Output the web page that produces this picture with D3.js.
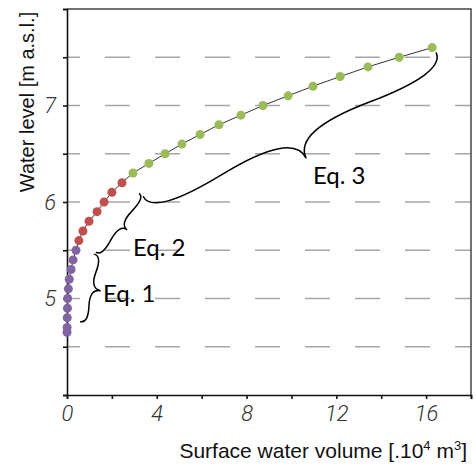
<!DOCTYPE html>
<html>
<head>
<meta charset="utf-8">
<script src="https://cdn.jsdelivr.net/npm/d3@7"></script>
<style>
  body { margin: 0; background: #fff; }
</style>
</head>
<body>
<svg id="chart" width="476" height="467"></svg>
<script>
// water levels [m a.s.l.] and volumes [10^4 m3], one pair of arrays per equation
const eq1Level = [4.65, 4.7, 4.8, 4.9, 5.0, 5.1, 5.2, 5.3, 5.4, 5.5];
const eq1Volume = [0.0, 0.005, 0.01, 0.02, 0.03, 0.06, 0.1, 0.18, 0.27, 0.4];
const eq2Level = [5.6, 5.7, 5.8, 5.9, 6.0, 6.1, 6.2];
const eq2Volume = [0.53, 0.71, 0.98, 1.34, 1.65, 2.0, 2.45];
const eq3Level = [6.3, 6.4, 6.5, 6.6, 6.7, 6.8, 6.9, 7.0, 7.1, 7.2, 7.3, 7.4, 7.5, 7.6];
const eq3Volume = [2.94, 3.65, 4.37, 5.12, 5.93, 6.77, 7.75, 8.73, 9.85, 10.96, 12.17, 13.41, 14.8, 16.27];

const xTickLabels = [0, 4, 8, 12, 16];
const yTickLabels = [5, 6, 7];
const gridLevels = [4.5, 5, 5.5, 6, 6.5, 7, 7.5];

// brace annotations: ends in data units [volume, level]
const braceNames = ["Eq. 1", "Eq. 2", "Eq. 3"];
const braceStart = [[0.58, 4.76], [1.29, 5.48], [3.39, 6.06]];
const braceEnd = [[1.2, 5.46], [3.21, 6.09], [16.44, 7.55]];
const braceDepth = [14, 12, 38];
const braceLabelAt = [[1.6, 4.96], [2.94, 5.44], [10.96, 6.19]];

const colors = ["#8064a2", "#c0504d", "#9bbb59"];

const svg = d3.select("#chart");
const plotLeft = 67, plotRight = 471, plotTop = 9, plotBottom = 395;

const x = d3.scaleLinear().domain([0, 18]).range([plotLeft, plotRight]);
const y = d3.scaleLinear().domain([4, 8]).range([plotBottom, plotTop]);

// dashed grid
svg.append("g")
  .selectAll("line")
  .data(gridLevels)
  .join("line")
  .attr("x1", plotLeft)
  .attr("x2", plotRight)
  .attr("y1", (d) => y(d))
  .attr("y2", (d) => y(d))
  .attr("stroke", "#a6a6a6")
  .attr("stroke-width", 1.4)
  .attr("stroke-dasharray", "25,25")
  .attr("stroke-dashoffset", 12);

// box: top and right edges
svg.append("path")
  .attr("d", `M${plotLeft},${plotTop}H${plotRight}V${plotBottom}`)
  .attr("fill", "none")
  .attr("stroke", "#444")
  .attr("stroke-width", 1.5);

// axes
const xAxis = svg.append("g")
  .attr("transform", `translate(0,${plotBottom})`)
  .call(d3.axisBottom(x).tickValues(d3.range(0, 19, 2)).tickSize(4).tickFormat((d) => xTickLabels.includes(d) ? d : ""));
const yAxis = svg.append("g")
  .attr("transform", `translate(${plotLeft},0)`)
  .call(d3.axisLeft(y).tickValues(d3.range(4, 8.01, 0.5)).tickSize(4).tickFormat((d) => yTickLabels.includes(d) ? d : ""));

[xAxis, yAxis].forEach((g) => {
  g.select(".domain").attr("stroke", "#111").attr("stroke-width", 1.6);
  g.selectAll(".tick line").attr("stroke", "#111").attr("stroke-width", 1.6);
  g.selectAll(".tick text")
    .style("font-family", "Roboto, 'Liberation Sans', sans-serif")
    .style("font-style", "italic")
    .style("font-weight", 300)
    .style("font-size", "22px")
    .attr("fill", "#333");
});
xAxis.selectAll(".tick text").attr("y", 10);
yAxis.selectAll(".tick text").attr("x", -11);

// axis titles
svg.append("text")
  .attr("x", plotRight - 4)
  .attr("y", 458)
  .attr("text-anchor", "end")
  .style("font-family", "'Liberation Sans', Arial, sans-serif")
  .style("font-size", "21px")
  .attr("fill", "#111")
  .html('Surface water volume [.10<tspan dy="-8" font-size="13px">4</tspan><tspan dy="8"> m</tspan><tspan dy="-8" font-size="13px">3</tspan><tspan dy="8">]</tspan>');

svg.append("text")
  .attr("transform", "translate(34,102) rotate(-90)")
  .attr("text-anchor", "middle")
  .style("font-family", "'Liberation Sans', Arial, sans-serif")
  .style("font-size", "20px")
  .attr("fill", "#111")
  .text("Water level [m a.s.l.]");

// connecting line through all points
const levels = [...eq1Level, ...eq2Level, ...eq3Level];
const volumes = [...eq1Volume, ...eq2Volume, ...eq3Volume];
const allPoints = levels.map((l, i) => [volumes[i], l]);
svg.append("path")
  .datum(allPoints)
  .attr("d", d3.line().x((d) => x(d[0])).y((d) => y(d[1])))
  .attr("fill", "none")
  .attr("stroke", "#333")
  .attr("stroke-width", 1);

// dots, coloured per equation
const groups = [
  eq1Level.map((l, i) => [eq1Volume[i], l]),
  eq2Level.map((l, i) => [eq2Volume[i], l]),
  eq3Level.map((l, i) => [eq3Volume[i], l]),
];
groups.forEach((pts, gi) => {
  svg.append("g")
    .selectAll("circle")
    .data(pts)
    .join("circle")
    .attr("cx", (d) => x(d[0]))
    .attr("cy", (d) => y(d[1]))
    .attr("r", 4.5)
    .attr("fill", colors[gi]);
});

// curly brace between two screen points, tip pushed w px to one side
function bracePath(x1, y1, x2, y2, w, q) {
  let dx = x1 - x2, dy = y1 - y2;
  const len = Math.sqrt(dx * dx + dy * dy);
  dx /= len;
  dy /= len;
  const qx1 = x1 + q * w * dy, qy1 = y1 - q * w * dx;
  const qx2 = x1 - 0.25 * len * dx + (1 - q) * w * dy;
  const qy2 = y1 - 0.25 * len * dy - (1 - q) * w * dx;
  const tx = x1 - 0.5 * len * dx + w * dy;
  const ty = y1 - 0.5 * len * dy - w * dx;
  const qx3 = x2 + q * w * dy, qy3 = y2 - q * w * dx;
  const qx4 = x1 - 0.75 * len * dx + (1 - q) * w * dy;
  const qy4 = y1 - 0.75 * len * dy - (1 - q) * w * dx;
  return `M${x1},${y1}Q${qx1},${qy1} ${qx2},${qy2}T${tx},${ty}` +
    `M${x2},${y2}Q${qx3},${qy3} ${qx4},${qy4}T${tx},${ty}`;
}

braceNames.forEach((name, i) => {
  const [a, b] = [braceStart[i], braceEnd[i]];
  svg.append("path")
    .attr("d", bracePath(x(a[0]), y(a[1]), x(b[0]), y(b[1]), braceDepth[i], 0.6))
    .attr("fill", "none")
    .attr("stroke", "#000")
    .attr("stroke-width", 1.5);
  svg.append("text")
    .attr("x", x(braceLabelAt[i][0]))
    .attr("y", y(braceLabelAt[i][1]))
    .style("font-family", "Lato, 'Open Sans', sans-serif")
    .style("font-size", "24px")
    .attr("fill", "#000")
    .text(name);
});
</script>
</body>
</html>
